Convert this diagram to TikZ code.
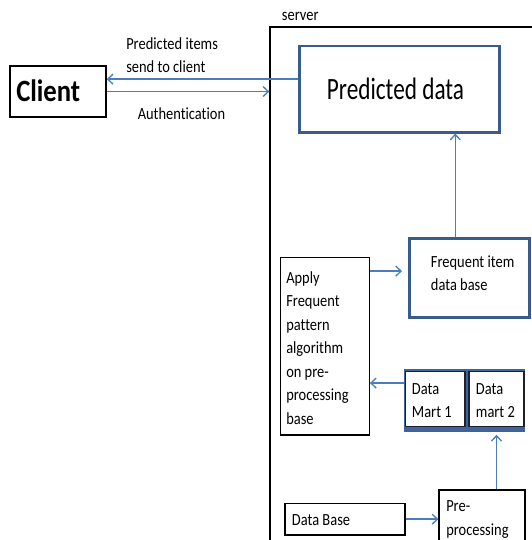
\documentclass[tikz,border=0pt]{standalone}
\usepackage{fontspec}
\setmainfont{Carlito}
\newfontfamily\lblfont[FakeStretch=0.85,Ligatures=NoCommon]{Carlito}
\newfontfamily\headfont[FakeStretch=0.75,Ligatures=NoCommon]{Carlito}
\newfontfamily\clientfont[FakeStretch=0.86,Ligatures=NoCommon]{Carlito}
\usetikzlibrary{arrows.meta,fit}
\definecolor{connblue}{RGB}{74,126,187}
\definecolor{frameblue}{RGB}{56,93,138}
\definecolor{martblue}{RGB}{62,100,155}
\definecolor{martedge}{RGB}{30,32,45}
\def\px{0.75pt}
\begin{document}
\begin{tikzpicture}[x=0.75pt,y=-0.75pt,
  plainbox/.style={draw=black, line width=0.9pt, inner sep=0pt, fill=white},
  clientbox/.style={draw=black, line width=1.1pt, inner sep=0pt, fill=white},
  bluebox/.style={draw=frameblue, line width=1.9pt, inner sep=0pt, fill=white},
  martinner/.style={draw=martedge, line width=0.9pt, inner sep=0pt, fill=white},
  frame/.style={draw=black, line width=1pt, inner sep=0pt},
  % multi-line labels are anchored at the baseline of their last line
  txt/.style={anchor=base west, inner sep=0pt, align=left,
    font=\lblfont\fontsize{12.75pt}{17.6pt}\selectfont},
  conn/.style={draw=connblue, line width=1pt,
    -{Straight Barb[length=4pt,width=7.5pt]}},
]
\useasboundingbox (0,0) rectangle (532,540);
\clip (0,0) rectangle (532,540);

% server frame
\node[frame, fit={(270,27) (600,600)}] (srv) {};
\node[txt] (srvtxt) at (281.7,20.7) {server};

% client
\node[clientbox, fit={(10,66) (106,117)}] (client) {};
\node[anchor=base west, inner sep=0pt,
  font=\clientfont\bfseries\fontsize{23.25pt}{28pt}\selectfont] (clienttxt) at (16,101.7) {Client};

% predicted data
\node[bluebox, fit={(299.3,46) (499.3,132.3)}] (pred) {};
\node[anchor=base west, inner sep=0pt,
  font=\headfont\fontsize{23.25pt}{28pt}\selectfont] (predtxt) at (326.7,99.3) {Predicted data};

% frequent item data base
\node[bluebox, fit={(409.3,238.3) (529.3,317.7)}] (freq) {};
\node[txt] (freqtxt) at (430.7,290.5) {Frequent item\\data base};

% frequent pattern algorithm
\node[plainbox, fit={(280.7,257.7) (369.3,435)}] (apply) {};
\node[txt] (applytxt) at (286,424) {Apply\\Frequent\\pattern\\algorithm\\on pre-\\processing\\base};

% data marts on a shared blue base
\node[fill=martblue, inner sep=0pt, fit={(404,369.3) (525,431.5)}] (mart) {};
\node[martinner, fit={(405.5,371.7) (465,426.2)}] (dm1) {};
\node[martinner, fit={(469,371.7) (524,426.2)}] (dm2) {};
\node[txt] (dm1txt) at (411.7,417.5) {Data\\Mart 1};
\node[txt] (dm2txt) at (475.7,417.5) {Data\\mart 2};

% pre-processing and data base
\node[plainbox, fit={(439,490) (525,560)}] (pre) {};
\node[txt] (pretxt) at (446,535) {Pre-\\processing};
\node[plainbox, fit={(285,503.3) (405,535)}] (db) {};
\node[txt] (dbtxt) at (291.7,525.7) {Data Base};

% connector labels
\node[txt] (sendtxt) at (126,72.5) {Predicted items\\send to client};
\node[txt] (authtxt) at (137.5,119) {Authentication};

% connectors
\coordinate (predout) at ([yshift=10*\px]pred.west);
\draw[conn] (predout) -- (predout -| client.east);
\draw[conn] (client.east) -- (client.east -| srv.west);

\coordinate (freqout) at ([xshift=-14*\px]freq.north);
\draw[conn] (freqout) -- (freqout |- pred.south);

\coordinate (applyout) at ([yshift=-14*\px]apply.north east);
\draw[conn, shorten >=6*\px] (applyout) -- (applyout -| freq.west);

\coordinate (martout) at ([yshift=-14*\px]mart.north west);
\draw[conn] (martout) -- (martout -| apply.east);

\coordinate (preout) at (dm2.south |- pre.north);
\draw[conn, shorten >=3*\px] (preout) -- (preout |- mart.south);

\draw[conn] (db.east) -- (db.east -| pre.west);
\end{tikzpicture}
\end{document}
